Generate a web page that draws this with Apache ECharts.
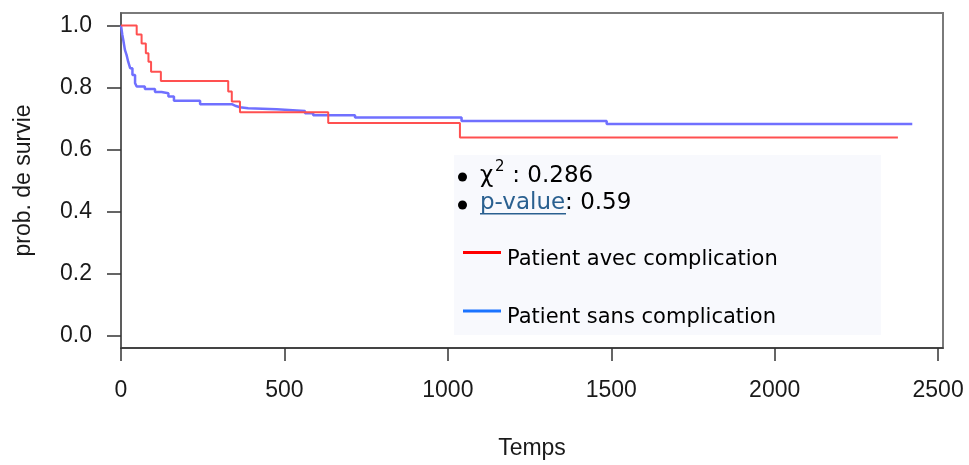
<!DOCTYPE html>
<html>
<head>
<meta charset="utf-8">
<script src="https://cdn.jsdelivr.net/npm/echarts@6/dist/echarts.min.js"></script>
<style>
html,body{margin:0;padding:0;background:#fff;}
#chart{width:969px;height:465px;}
</style>
</head>
<body>
<div id="chart"></div>
<script>
// Kaplan-Meier curves (time, survival probability)
const redTime = [0, 48, 63, 76, 84, 92, 122, 328, 339, 364, 634, 1037, 2377];
const redSurv = [1.0, 0.971, 0.942, 0.91, 0.883, 0.851, 0.821, 0.787, 0.755, 0.72, 0.685, 0.639, 0.639];

const blueTime = [0, 4, 7, 12, 17, 22, 28, 35, 43, 48, 73, 104, 124, 145, 162, 242, 339, 352, 364, 389, 476, 563, 588, 716, 1042, 1486, 2421];
const blueSurv = [1.0, 0.97, 0.953, 0.921, 0.905, 0.883, 0.862, 0.84, 0.814, 0.803, 0.795, 0.785, 0.781, 0.771, 0.757, 0.746, 0.74, 0.736, 0.733, 0.73, 0.724, 0.717, 0.71, 0.703, 0.692, 0.682, 0.682];

const seriesNames = ['Patient avec complication', 'Patient sans complication'];
const xTicks = [0, 500, 1000, 1500, 2000, 2500];
const yTicks = [0, 0.2, 0.4, 0.6, 0.8, 1.0];
const chiSquare = '0.286';
const pValue = '0.59';

const zip = (a, b) => a.map((v, i) => [v, b[i]]);

const axisFont = '"Liberation Sans", Arial, Helvetica, sans-serif';
const boxFont = '"DejaVu Sans", Verdana, sans-serif';

const chart = echarts.init(document.getElementById('chart'), null, {renderer: 'canvas'});
chart.setOption({
  animation: false,
  backgroundColor: '#ffffff',
  grid: {left: 121, right: 26, top: 13, bottom: 115, show: true, borderColor: '#7a7a7a', borderWidth: 2, backgroundColor: 'transparent'},
  xAxis: {
    type: 'value', min: 0, max: 2515,
    name: 'Temps', nameLocation: 'middle', nameGap: 89,
    nameTextStyle: {fontFamily: axisFont, fontSize: 23, color: '#1a1a1a'},
    axisLine: {show: true, onZero: false, lineStyle: {color: '#333', width: 1.5}},
    axisTick: {show: true, length: 13, customValues: xTicks, lineStyle: {color: '#333', width: 1.5}},
    axisLabel: {customValues: xTicks, margin: 31, fontFamily: axisFont, fontSize: 23, color: '#1a1a1a',
      formatter: v => String(v)},
    splitLine: {show: false}
  },
  yAxis: {
    type: 'value', min: -0.04, max: 1.04,
    name: 'prob. de survie', nameLocation: 'middle', nameRotate: 90, nameGap: 86,
    nameTextStyle: {fontFamily: axisFont, fontSize: 23, color: '#1a1a1a'},
    axisLine: {show: true, onZero: false, lineStyle: {color: '#555', width: 1.5}},
    axisTick: {show: true, length: 14, customValues: yTicks, lineStyle: {color: '#333', width: 1.5}},
    axisLabel: {customValues: yTicks, margin: 29, fontFamily: axisFont, fontSize: 23, color: '#1a1a1a',
      formatter: v => v.toFixed(1)},
    splitLine: {show: false}
  },
  series: [
    {name: seriesNames[0], type: 'line', step: 'end', data: zip(redTime, redSurv), showSymbol: false,
     lineStyle: {color: '#ff5050', width: 2}, z: 3},
    {name: seriesNames[1], type: 'line', step: 'end', data: zip(blueTime, blueSurv), showSymbol: false,
     lineStyle: {color: '#7070ff', width: 2.5}, z: 2}
  ],
  graphic: [
    {type: 'rect', shape: {x: 454, y: 155, width: 427, height: 180}, style: {fill: '#f8f9fd'}, z: 1},
    {type: 'circle', shape: {cx: 462.5, cy: 177, r: 4.5}, style: {fill: '#000'}, z: 10},
    {type: 'text', x: 480, y: 176, style: {text: 'χ', font: '23px ' + boxFont, fill: '#000', verticalAlign: 'middle'}, z: 10},
    {type: 'text', x: 495, y: 167.5, style: {text: '2', font: '15px ' + boxFont, fill: '#000', verticalAlign: 'middle'}, z: 10},
    {type: 'text', x: 505, y: 176, style: {text: ' : ' + chiSquare, font: '23px ' + boxFont, fill: '#000', verticalAlign: 'middle'}, z: 10},
    {type: 'circle', shape: {cx: 462.5, cy: 205, r: 4.5}, style: {fill: '#000'}, z: 10},
    {type: 'text', x: 480, y: 203.5, style: {
      text: '{l|p-value}: ' + pValue, font: '23px ' + boxFont, fill: '#000', verticalAlign: 'middle',
      rich: {l: {fill: '#2a6090', font: '23px ' + boxFont}}}, z: 10},
    {type: 'rect', shape: {x: 480, y: 213, width: 86, height: 1.5}, style: {fill: '#2a6090'}, z: 10},
    {type: 'rect', shape: {x: 463, y: 251, width: 38, height: 3}, style: {fill: '#ff0000'}, z: 10},
    {type: 'text', x: 507, y: 260, style: {text: seriesNames[0], font: '21px ' + boxFont, fill: '#000', verticalAlign: 'middle'}, z: 10},
    {type: 'rect', shape: {x: 463, y: 309.5, width: 38, height: 3}, style: {fill: '#1a73ff'}, z: 10},
    {type: 'text', x: 507, y: 318, style: {text: seriesNames[1], font: '21px ' + boxFont, fill: '#000', verticalAlign: 'middle'}, z: 10}
  ]
});
</script>
</body>
</html>
